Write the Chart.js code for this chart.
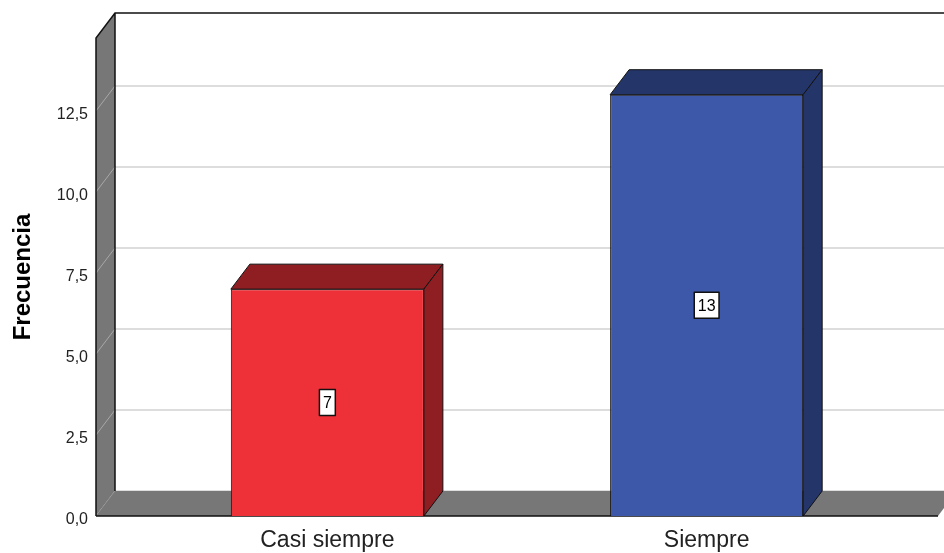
<!DOCTYPE html>
<html lang="es">
<head>
<meta charset="UTF-8">
<title>Frecuencia</title>
<script src="https://cdn.jsdelivr.net/npm/chart.js/dist/chart.umd.min.js"></script>
<style>
  body { margin: 0; padding: 0; background: #fff; }
  #wrap { width: 944px; height: 553px; }
</style>
</head>
<body>
<div id="wrap">
  <canvas id="barras" width="944" height="553"></canvas>
</div>
<script>
// data
const categories = ['Casi siempre', 'Siempre'];
const frecuencias = [7, 13];
const yTicks = [0, 2.5, 5, 7.5, 10, 12.5];

const frontColors = ['#ee3138', '#3d58a8'];
const shadeColors = ['#8f1e22', '#24356a'];

// depth of the 3d effect (pixels right / up)
const DX = 19;
const DY = 25;
const FONT = '"Liberation Sans", Arial, sans-serif';

// walls, floor and gridlines behind the bars
const frame3d = {
  id: 'frame3d',
  beforeDatasetsDraw(chart) {
    const { ctx, chartArea: a, scales: { y } } = chart;
    ctx.save();

    // gridlines on the back wall
    ctx.strokeStyle = '#d2d2d2';
    ctx.lineWidth = 1.5;
    yTicks.forEach(v => {
      const py = y.getPixelForValue(v);
      ctx.beginPath();
      ctx.moveTo(a.left + DX, py - DY);
      ctx.lineTo(chart.width + DX, py - DY);
      ctx.stroke();
    });

    // left wall
    ctx.fillStyle = '#777777';
    ctx.beginPath();
    ctx.moveTo(a.left, a.top);
    ctx.lineTo(a.left + DX, a.top - DY);
    ctx.lineTo(a.left + DX, a.bottom - DY);
    ctx.lineTo(a.left, a.bottom);
    ctx.closePath();
    ctx.fill();

    // gridline traces across the left wall
    ctx.strokeStyle = '#a8a8a8';
    ctx.lineWidth = 1;
    yTicks.forEach(v => {
      const py = y.getPixelForValue(v);
      ctx.beginPath();
      ctx.moveTo(a.left, py);
      ctx.lineTo(a.left + DX, py - DY);
      ctx.stroke();
    });

    // floor
    ctx.fillStyle = '#777777';
    ctx.beginPath();
    ctx.moveTo(a.left, a.bottom);
    ctx.lineTo(a.left + DX, a.bottom - DY);
    ctx.lineTo(a.right + DX, a.bottom - DY);
    ctx.lineTo(a.right, a.bottom);
    ctx.closePath();
    ctx.fill();

    // outline
    ctx.strokeStyle = '#111';
    ctx.lineWidth = 1.5;
    ctx.beginPath();
    ctx.moveTo(a.left, a.bottom);
    ctx.lineTo(a.left, a.top);
    ctx.lineTo(a.left + DX, a.top - DY);
    ctx.lineTo(chart.width, a.top - DY);
    ctx.moveTo(a.left + DX, a.top - DY);
    ctx.lineTo(a.left + DX, a.bottom - DY);
    ctx.moveTo(a.left, a.bottom);
    ctx.lineTo(a.right, a.bottom);
    ctx.stroke();

    ctx.restore();
  }
};

// top and side faces of each bar plus the boxed value label
const bars3d = {
  id: 'bars3d',
  afterDatasetsDraw(chart) {
    const { ctx } = chart;
    const meta = chart.getDatasetMeta(0);
    ctx.save();
    ctx.strokeStyle = '#111';
    ctx.lineWidth = 1;
    ctx.lineJoin = 'round';
    meta.data.forEach((bar, i) => {
      const { x, y, base, width } = bar.getProps(['x', 'y', 'base', 'width'], true);
      const x0 = x - width / 2;
      const x1 = x + width / 2;
      ctx.fillStyle = shadeColors[i];

      // top
      ctx.beginPath();
      ctx.moveTo(x0, y);
      ctx.lineTo(x0 + DX, y - DY);
      ctx.lineTo(x1 + DX, y - DY);
      ctx.lineTo(x1, y);
      ctx.closePath();
      ctx.fill();
      ctx.stroke();

      // side
      ctx.beginPath();
      ctx.moveTo(x1, y);
      ctx.lineTo(x1 + DX, y - DY);
      ctx.lineTo(x1 + DX, base - DY);
      ctx.lineTo(x1, base);
      ctx.closePath();
      ctx.fill();
      ctx.stroke();

      // value label
      const txt = String(frecuencias[i]);
      ctx.font = '16px ' + FONT;
      const tw = ctx.measureText(txt).width;
      const cy = (y + base) / 2;
      const bw = tw + 7;
      const bh = 26;
      ctx.fillStyle = '#fff';
      ctx.fillRect(x - bw / 2, cy - bh / 2, bw, bh);
      ctx.lineWidth = 1.5;
      ctx.strokeRect(x - bw / 2, cy - bh / 2, bw, bh);
      ctx.lineWidth = 1;
      ctx.fillStyle = '#000';
      ctx.textAlign = 'center';
      ctx.textBaseline = 'middle';
      ctx.fillText(txt, x, cy + 1);
    });
    ctx.restore();
  }
};

new Chart(document.getElementById('barras'), {
  type: 'bar',
  data: {
    datasets: [{
      data: frecuencias.map((v, i) => ({ x: i, y: v })),
      backgroundColor: frontColors,
      borderColor: '#111',
      borderWidth: 1,
      barPercentage: 0.509,
      categoryPercentage: 1
    }]
  },
  options: {
    responsive: false,
    animation: false,
    layout: { padding: { top: 38, right: 6, left: 0, bottom: 0 } },
    plugins: {
      legend: { display: false },
      tooltip: { enabled: false }
    },
    scales: {
      x: {
        type: 'linear',
        offset: false,
        min: -0.61,
        max: 1.61,
        afterBuildTicks: s => { s.ticks = categories.map((c, i) => ({ value: i })); },
        afterFit: s => { s.height = 37; },
        grid: { display: false, drawTicks: false },
        border: { display: false },
        ticks: {
          autoSkip: false,
          maxRotation: 0,
          padding: 11,
          color: '#222',
          font: { family: FONT, size: 23 },
          callback: (v, i) => categories[i]
        }
      },
      y: {
        min: 0,
        max: 14.75,
        afterBuildTicks: s => { s.ticks = yTicks.map(v => ({ value: v })); },
        afterFit: s => { s.width = 96; },
        grid: { display: false, drawTicks: false },
        border: { display: false },
        ticks: {
          padding: 8,
          labelOffset: 4,
          color: '#222',
          font: { family: FONT, size: 16 },
          callback: v => v.toFixed(1).replace('.', ',')
        },
        title: {
          display: true,
          text: 'Frecuencia',
          color: '#000',
          font: { family: FONT, size: 24, weight: 'bold' },
          padding: { top: 9, bottom: 0 }
        }
      }
    }
  },
  plugins: [frame3d, bars3d]
});
</script>
</body>
</html>
